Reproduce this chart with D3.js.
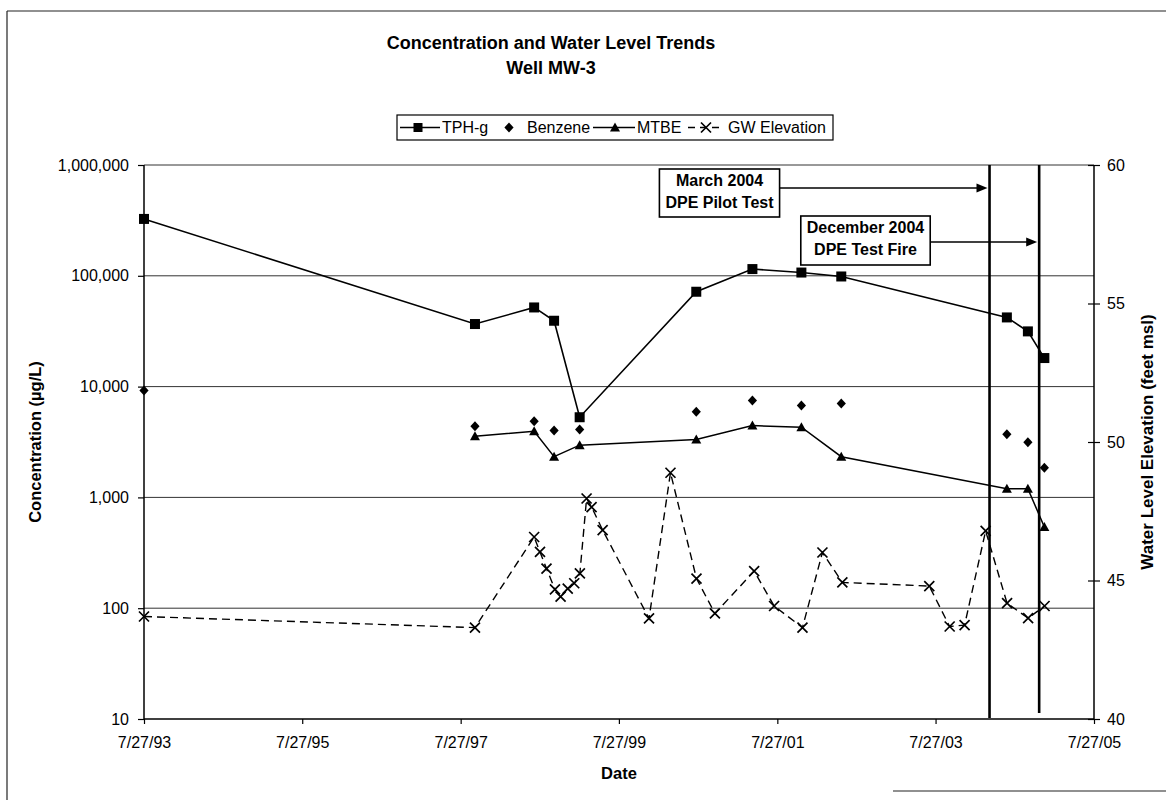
<!DOCTYPE html>
<html><head><meta charset="utf-8">
<script src="https://cdn.jsdelivr.net/npm/d3@7"></script>
<style>
body{margin:0;background:#fff}
svg{display:block}
text{font-family:"Liberation Sans",Arial,Helvetica,sans-serif;fill:#000}
</style>
</head><body>
<svg id="chart" width="1166" height="800"></svg>
<script>
// ---------------- DATA ----------------
const concDates = ["1993-07-27","1997-10-01","1998-07-01","1998-10-01","1999-01-27","2000-07-18","2001-04-03","2001-11-15","2002-05-18","2004-06-20","2004-09-25","2004-12-10"];
const tphg      = [326000, 36700, 51800, 39300, 5290, 71800, 115000, 107000, 98600, 42100, 31500, 18100];
const benzene   = [9200, 4390, 4870, 4010, 4100, 5920, 7480, 6740, 7030, 3720, 3150, 1850];
const mtbe      = [null, 3570, 3960, 2330, 2960, 3330, 4450, 4300, 2330, 1200, 1200, 540];

const gwDates = ["1993-07-27","1997-10-01","1998-07-01","1998-07-28","1998-08-27","1998-10-05","1998-10-31","1998-12-03","1999-01-02","1999-01-28","1999-02-28","1999-03-23","1999-05-13","1999-12-13","2000-03-21","2000-07-19","2000-10-12","2001-04-11","2001-07-12","2001-11-20","2002-02-20","2002-05-23","2003-06-28","2003-09-30","2003-12-08","2004-03-14","2004-06-21","2004-09-26","2004-12-11"];
const gwElev  = [43.70, 43.30, 46.57, 46.03, 45.43, 44.68, 44.42, 44.71, 44.90, 45.26, 47.96, 47.65, 46.82, 43.63, 48.89, 45.07, 43.81, 45.34, 44.08, 43.30, 46.01, 44.93, 44.80, 43.34, 43.39, 46.79, 44.18, 43.64, 44.08];

const eventDates  = ["2004-04-01", "2004-11-16"];
const eventLabels = [["March 2004","DPE Pilot Test"],["December 2004","DPE Test Fire"]];

const xTickLabels = ["1993-07-27","1995-07-27","1997-07-27","1999-07-27","2001-07-27","2003-07-27","2005-07-27"];
const yLeftTicks  = [10, 100, 1000, 10000, 100000, 1000000];
const yRightTicks = [40, 45, 50, 55, 60];
const seriesNames = ["TPH-g", "Benzene", "MTBE", "GW Elevation"];
const titleLines  = ["Concentration and Water Level Trends", "Well MW-3"];

// ---------------- LAYOUT ----------------
const P = {left:144, right:1094, top:165, bottom:719};
const parse = d3.timeParse("%Y-%m-%d");
const svg = d3.select("#chart");

const x = d3.scaleTime().domain([parse("1993-07-27"), parse("2005-07-27")]).range([P.left, P.right]);
const yL = d3.scaleLog().domain([10, 1000000]).range([P.bottom, P.top]);
const yR = d3.scaleLinear().domain([40, 60]).range([P.bottom, P.top]);

// outer frame (scan border)
const frame = svg.append("g").attr("stroke","#222").attr("stroke-width",1.2);
frame.append("line").attr("x1",7).attr("x2",1166).attr("y1",11).attr("y2",11);
frame.append("line").attr("x1",7).attr("x2",7).attr("y1",11).attr("y2",800);
frame.append("line").attr("x1",893).attr("x2",1166).attr("y1",791).attr("y2",791);

// titles
svg.append("g").selectAll("text").data(titleLines).join("text")
  .attr("x",551).attr("y",(d,i)=>49+i*25)
  .attr("text-anchor","middle").attr("font-size",18).attr("font-weight","bold")
  .text(d=>d);

// gridlines
svg.append("g").selectAll("line").data(yLeftTicks.filter(d=>d>10)).join("line")
  .attr("x1",P.left).attr("x2",P.right)
  .attr("y1",d=>yL(d)).attr("y2",d=>yL(d))
  .attr("stroke","#333").attr("stroke-width",1);

// axes
const axL = svg.append("g").attr("transform",`translate(${P.left},0)`)
  .call(d3.axisLeft(yL).tickValues(yLeftTicks).tickFormat(d3.format(",")).tickSize(6).tickPadding(9));
const axR = svg.append("g").attr("transform",`translate(${P.right},0)`)
  .call(d3.axisRight(yR).tickValues(yRightTicks).tickSize(6).tickPadding(7));
axR.selectAll(".tick line").attr("x1",-6);
const axB = svg.append("g").attr("transform",`translate(0,${P.bottom})`)
  .call(d3.axisBottom(x).tickValues(xTickLabels.map(parse)).tickFormat(d3.timeFormat("%-m/%-d/%y")).tickSize(5).tickPadding(13));
[axL,axR,axB].forEach(a=>{
  a.selectAll("path").attr("stroke","#000").attr("stroke-width",1.5);
  a.selectAll(".tick line").attr("stroke","#000").attr("stroke-width",1.2);
  a.selectAll("text").attr("font-size",16).attr("font-family","'Liberation Sans',Arial,sans-serif").attr("fill","#000");
});
axL.select(".domain").attr("d",`M0,${P.bottom}V${P.top}`);
axR.select(".domain").attr("d",`M0,${P.bottom}V${P.top}`);
axB.select(".domain").attr("d",`M${P.left},0H${P.right}`);

// axis titles
const midY = (P.top+P.bottom)/2;
svg.append("text").attr("transform",`translate(35,${midY}) rotate(-90)`)
  .attr("text-anchor","middle").attr("dominant-baseline","central")
  .attr("font-size",16.5).attr("font-weight","bold").text("Concentration (µg/L)");
svg.append("text").attr("transform",`translate(1147,${midY}) rotate(-90)`)
  .attr("text-anchor","middle").attr("dominant-baseline","central")
  .attr("font-size",17).attr("font-weight","bold").text("Water Level Elevation (feet msl)");
svg.append("text").attr("x",(P.left+P.right)/2).attr("y",779)
  .attr("text-anchor","middle").attr("font-size",16.5).attr("font-weight","bold").text("Date");

// event lines
const evTop = [P.top, P.top], evBot = [P.bottom-1, P.bottom-6];
svg.append("g").selectAll("line").data(eventDates).join("line")
  .attr("x1",d=>x(parse(d))).attr("x2",d=>x(parse(d)))
  .attr("y1",(d,i)=>evTop[i]).attr("y2",(d,i)=>evBot[i])
  .attr("stroke","#000").attr("stroke-width",2.6);

// annotation boxes + arrows
const annLayout = [{cx:719.5, y:169, h:48, arrowY:188}, {cx:865.5, y:216, h:49, arrowY:242}];
eventLabels.forEach((lines,i)=>{
  const L = annLayout[i];
  const g = svg.append("g");
  const t = g.selectAll("text").data(lines).join("text")
    .attr("x",L.cx).attr("y",(d,j)=>L.y+17+j*21.5)
    .attr("text-anchor","middle").attr("font-size",16).attr("font-weight","bold").text(d=>d);
  let w = 0; t.each(function(){w = Math.max(w,this.getComputedTextLength());});
  const bw = w+12;
  g.insert("rect","text").attr("x",L.cx-bw/2).attr("y",L.y).attr("width",bw).attr("height",L.h)
    .attr("fill","#fff").attr("stroke","#000").attr("stroke-width",1.6);
  const ex = x(parse(eventDates[i]))-2;
  g.append("line").attr("x1",L.cx+bw/2).attr("x2",ex-9).attr("y1",L.arrowY).attr("y2",L.arrowY)
    .attr("stroke","#000").attr("stroke-width",1.3);
  g.append("path").attr("d",`M${ex},${L.arrowY}L${ex-11},${L.arrowY-4.5}L${ex-11},${L.arrowY+4.5}Z`).attr("fill","#000");
});

// marker helpers
function square(g, s){ g.append("rect").attr("x",-s/2).attr("y",-s/2).attr("width",s).attr("height",s).attr("fill","#000"); }
function diamond(g){ g.append("path").attr("d","M0,-5L4.6,0L0,5L-4.6,0Z").attr("fill","#000"); }
function tri(g){ g.append("path").attr("d","M0,-5L5,4L-5,4Z").attr("fill","#000"); }
function cross(g){ g.append("path").attr("d","M-5,-5L5,5M-5,5L5,-5").attr("stroke","#000").attr("stroke-width",1.7).attr("fill","none"); }

// series: TPH-g
const tphData = concDates.map((d,i)=>({d:parse(d), v:tphg[i]}));
svg.append("path").datum(tphData)
  .attr("d",d3.line().x(p=>x(p.d)).y(p=>yL(p.v)))
  .attr("fill","none").attr("stroke","#000").attr("stroke-width",1.6);
svg.append("g").selectAll("g").data(tphData).join("g")
  .attr("transform",p=>`translate(${x(p.d)},${yL(p.v)})`).each(function(){square(d3.select(this),10);});

// Benzene (markers only)
const bzData = concDates.map((d,i)=>({d:parse(d), v:benzene[i]}));
svg.append("g").selectAll("g").data(bzData).join("g")
  .attr("transform",p=>`translate(${x(p.d)},${yL(p.v)})`).each(function(){diamond(d3.select(this));});

// MTBE
const mtData = concDates.map((d,i)=>({d:parse(d), v:mtbe[i]})).filter(p=>p.v!=null);
svg.append("path").datum(mtData)
  .attr("d",d3.line().x(p=>x(p.d)).y(p=>yL(p.v)))
  .attr("fill","none").attr("stroke","#000").attr("stroke-width",1.5);
svg.append("g").selectAll("g").data(mtData).join("g")
  .attr("transform",p=>`translate(${x(p.d)},${yL(p.v)})`).each(function(){tri(d3.select(this));});

// GW Elevation
const gwData = gwDates.map((d,i)=>({d:parse(d), v:gwElev[i]}));
svg.append("path").datum(gwData)
  .attr("d",d3.line().x(p=>x(p.d)).y(p=>yR(p.v)))
  .attr("fill","none").attr("stroke","#000").attr("stroke-width",1.4).attr("stroke-dasharray","8,5");
svg.append("g").selectAll("g").data(gwData).join("g")
  .attr("transform",p=>`translate(${x(p.d)},${yR(p.v)})`).each(function(){cross(d3.select(this));});

// legend
const lg = svg.append("g");
const LB = {x:397, y:115, w:436, h:25};
lg.append("rect").attr("x",LB.x).attr("y",LB.y).attr("width",LB.w).attr("height",LB.h)
  .attr("fill","#fff").attr("stroke","#000").attr("stroke-width",1.2);
const ly = LB.y + LB.h/2;
const legItems = [
  {line:[400,440], dash:null, mk:418, tx:442, draw:g=>square(g,9)},
  {line:null, dash:null, mk:509, tx:527, draw:g=>diamond(g)},
  {line:[593,635], dash:null, mk:615, tx:637, draw:g=>tri(g)},
  {line:[688,724], dash:"7,5", mk:706, tx:728, draw:g=>cross(g)}
];
legItems.forEach((it,i)=>{
  if(it.line){
    lg.append("line").attr("x1",it.line[0]).attr("x2",it.line[1]).attr("y1",ly).attr("y2",ly)
      .attr("stroke","#000").attr("stroke-width",1.5).attr("stroke-dasharray",it.dash);
  }
  const m = lg.append("g").attr("transform",`translate(${it.mk},${ly})`); it.draw(m);
  lg.append("text").attr("x",it.tx).attr("y",ly).attr("dominant-baseline","central")
    .attr("font-size",16).text(seriesNames[i]);
});
</script>
</body></html>
